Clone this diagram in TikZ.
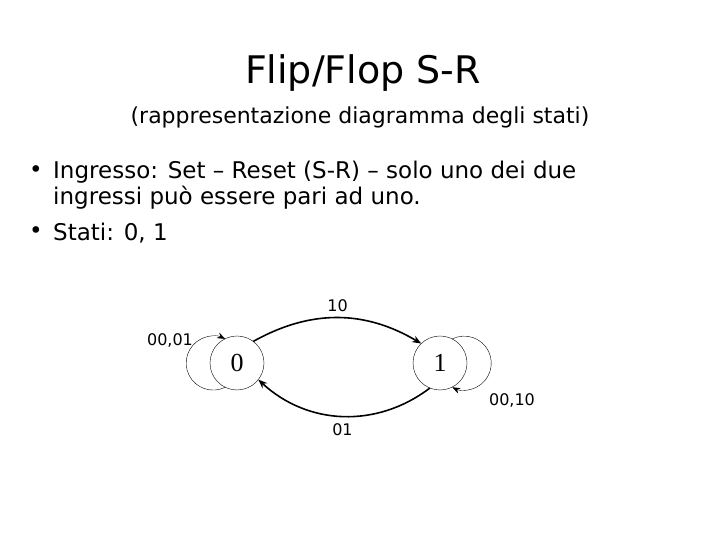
\documentclass[tikz,border=0pt]{standalone}
\usepackage{fontspec}
\setmainfont{DejaVu Sans}
\newfontfamily\statefont{Liberation Serif}
\usepackage{tikz}
\usetikzlibrary{arrows.meta,positioning,calc}

\begin{document}
\begin{tikzpicture}[
  x=1pt, y=1pt,
  state/.style={circle, draw, thin, minimum size=54pt, inner sep=0pt, outer sep=0pt, font=\statefont\fontsize{26}{28}\selectfont},
  trans/.style={-{Stealth[length=9pt,width=7pt]}, line width=1.6pt},
  selfloop/.style={-{Stealth[length=8pt,width=6pt]}, thin},
  lbl/.style={font=\fontsize{16}{18}\selectfont},
  txt/.style={anchor=west, inner sep=0pt, font=\fontsize{23}{26}\selectfont}
]
  \useasboundingbox (0,0) rectangle (720,540);

  % titles
  \node[font=\fontsize{38}{42}\selectfont] (title) at (363,467) {Flip/Flop S-R};
  \node[font=\fontsize{22}{26}\selectfont] (subtitle) at (360,423) {(rappresentazione diagramma degli stati)};

  % bullet list
  \node[txt] (bul1) at (29,368) {•};
  \node[txt] (line1) at (53,368) {Ingresso: Set – Reset (S-R) – solo uno dei due};
  \node[txt] (line2) at (53,342) {ingressi può essere pari ad uno.};
  \node[txt] (bul2) at (29,307) {•};
  \node[txt] (line3) at (53,307) {Stati: 0, 1};

  % states
  \node[state] (s0) at (237,177) {0};
  \node[state] (s1) at (440,177) {1};

  % transitions
  \draw[trans] (s0.53) to[bend left=30] node[lbl, above=2pt] (l10) {10} (s1.134);
  \draw[trans] (s1.248) to[bend left=40] node[lbl, below=3pt] (l01) {01} (s0.-38);
  \draw[selfloop] (s0.-116.4) arc[start angle=-63.6, end angle=-296.4, radius=27];
  \draw[selfloop] (s1.63.6) arc[start angle=116.4, end angle=-116.4, radius=27];

  \node[lbl] (l0001) at (170,200) {00,01};
  \node[lbl] (l0010) at (512,140) {00,10};
\end{tikzpicture}
\end{document}
